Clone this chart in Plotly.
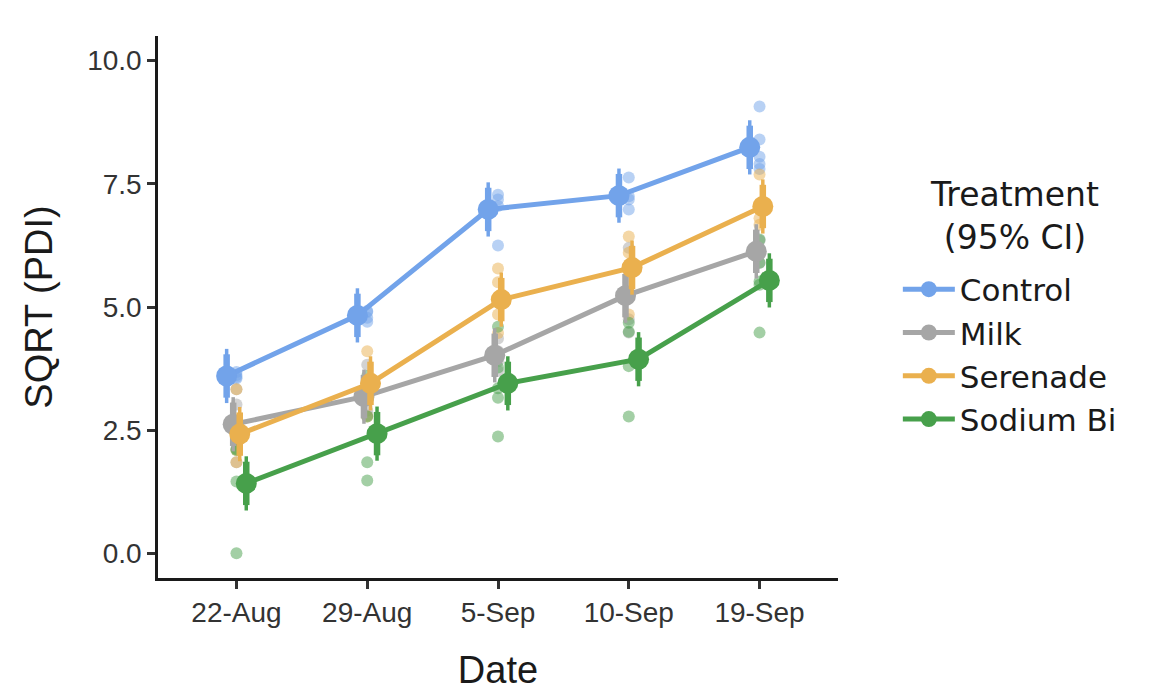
import plotly.graph_objects as go

dates = ["22-Aug", "29-Aug", "5-Sep", "10-Sep", "19-Sep"]
treatments = ["Control", "Milk", "Serenade", "Sodium Bi"]
colors = ["#72a3ea", "#a6a6a6", "#eab04e", "#47a04b"]

# estimated means (model estimates) per treatment per date
means = {
    "Control":   [3.60, 4.83, 6.98, 7.26, 8.24],
    "Milk":      [2.62, 3.18, 4.02, 5.23, 6.13],
    "Serenade":  [2.42, 3.45, 5.15, 5.80, 7.04],
    "Sodium Bi": [1.42, 2.43, 3.45, 3.94, 5.54],
}
ci95 = [0.55, 0.55, 0.55, 0.55, 0.55]
ci_inner = [0.44, 0.44, 0.44, 0.44, 0.44]

# raw observations per treatment per date
raw = {
    "Control": [
        [3.55, 3.62, 3.68, 3.58],
        [4.70, 4.78, 4.90, 4.92],
        [7.28, 7.18, 6.25, 7.05],
        [7.63, 7.18, 6.98, 7.25],
        [9.07, 8.40, 8.05, 7.90, 7.80],
    ],
    "Milk": [
        [3.33, 3.02, 2.30, 1.85],
        [3.83, 3.20, 2.90, 2.80],
        [4.36, 4.10, 3.90, 3.70],
        [6.20, 5.50, 4.48, 4.75],
        [6.35, 6.10, 5.90, 6.15],
    ],
    "Serenade": [
        [3.33, 2.40, 2.10, 1.85],
        [4.10, 3.50, 2.78, 3.42],
        [5.78, 5.50, 4.85, 4.47],
        [6.43, 6.10, 5.85, 4.85],
        [7.69, 7.00, 6.80, 6.67],
    ],
    "Sodium Bi": [
        [1.46, 0.00, 2.10, 2.12],
        [1.85, 1.48, 2.78, 3.60],
        [4.60, 3.77, 3.16, 2.37, 3.35],
        [4.68, 3.80, 2.78, 4.50],
        [6.37, 5.90, 5.52, 4.48, 5.45],
    ],
}

legend_title = "Treatment<br>(95% CI)"

dodge_width = 0.2
n_t = len(treatments)

fig = go.Figure()

# raw points (undodged)
for t, c in zip(treatments, colors):
    xs, ys = [], []
    for i, vals in enumerate(raw[t]):
        for v in vals:
            xs.append(i)
            ys.append(v)
    fig.add_trace(go.Scatter(
        x=xs, y=ys, mode="markers",
        marker=dict(size=12, color=c, opacity=0.5, line=dict(width=0)),
        showlegend=False, hoverinfo="skip"))

for k, (t, c) in enumerate(zip(treatments, colors)):
    off = (k - (n_t - 1) / 2) * dodge_width / n_t
    xd = [i + off for i in range(len(dates))]
    fig.add_trace(go.Scatter(
        x=xd, y=means[t], mode="markers",
        marker=dict(size=1, color=c, opacity=0),
        error_y=dict(type="data", array=ci95, visible=True, color=c,
                     thickness=3.5, width=0),
        showlegend=False, hoverinfo="skip"))
    fig.add_trace(go.Scatter(
        x=xd, y=means[t], mode="lines+markers", name=t,
        line=dict(color=c, width=5),
        marker=dict(size=21, color=c),
        error_y=dict(type="data", array=ci_inner, visible=True, color=c,
                     thickness=6.5, width=0)))

font_family = "Liberation Sans, Arial, sans-serif"
legend_family = "DejaVu Sans, Liberation Sans, sans-serif"

fig.add_annotation(
    text=legend_title, xref="paper", yref="paper", x=1.26, y=0.668,
    xanchor="center", yanchor="middle", align="center", showarrow=False,
    font=dict(size=33, color="#1a1a1a", family=legend_family))

fig.update_layout(
    width=1150, height=696,
    margin=dict(l=150, r=320, t=28, b=126),
    paper_bgcolor="white", plot_bgcolor="white",
    font=dict(family=font_family, color="#1a1a1a"),
    xaxis=dict(
        range=[-0.6, 4.6], tickvals=list(range(len(dates))), ticktext=dates,
        showgrid=False, zeroline=False, showline=True, linecolor="#1a1a1a",
        linewidth=2.5, ticks="outside", ticklen=8, tickwidth=2.5,
        tickcolor="#333333", tickfont=dict(size=28, color="#333333"),
        title=dict(text="Date", font=dict(size=38, color="#1a1a1a"), standoff=30),
    ),
    yaxis=dict(
        range=[-0.5, 10.5], tickvals=[0, 2.5, 5, 7.5, 10],
        ticktext=["0.0", "2.5", "5.0", "7.5", "10.0"],
        showgrid=False, zeroline=False, showline=True, linecolor="#1a1a1a",
        linewidth=2.5, ticks="outside", ticklen=8, tickwidth=2.5,
        tickcolor="#333333", tickfont=dict(size=28, color="#333333"),
        title=dict(text="SQRT (PDI)", font=dict(size=38, color="#1a1a1a"), standoff=23),
    ),
    legend=dict(
        x=1.088, xanchor="left", y=0.582, yanchor="top",
        font=dict(size=31, color="#1a1a1a", family=legend_family),
        itemwidth=52, tracegroupgap=0, bgcolor="rgba(0,0,0,0)",
    ),
)

fig.write_html("out.html")
